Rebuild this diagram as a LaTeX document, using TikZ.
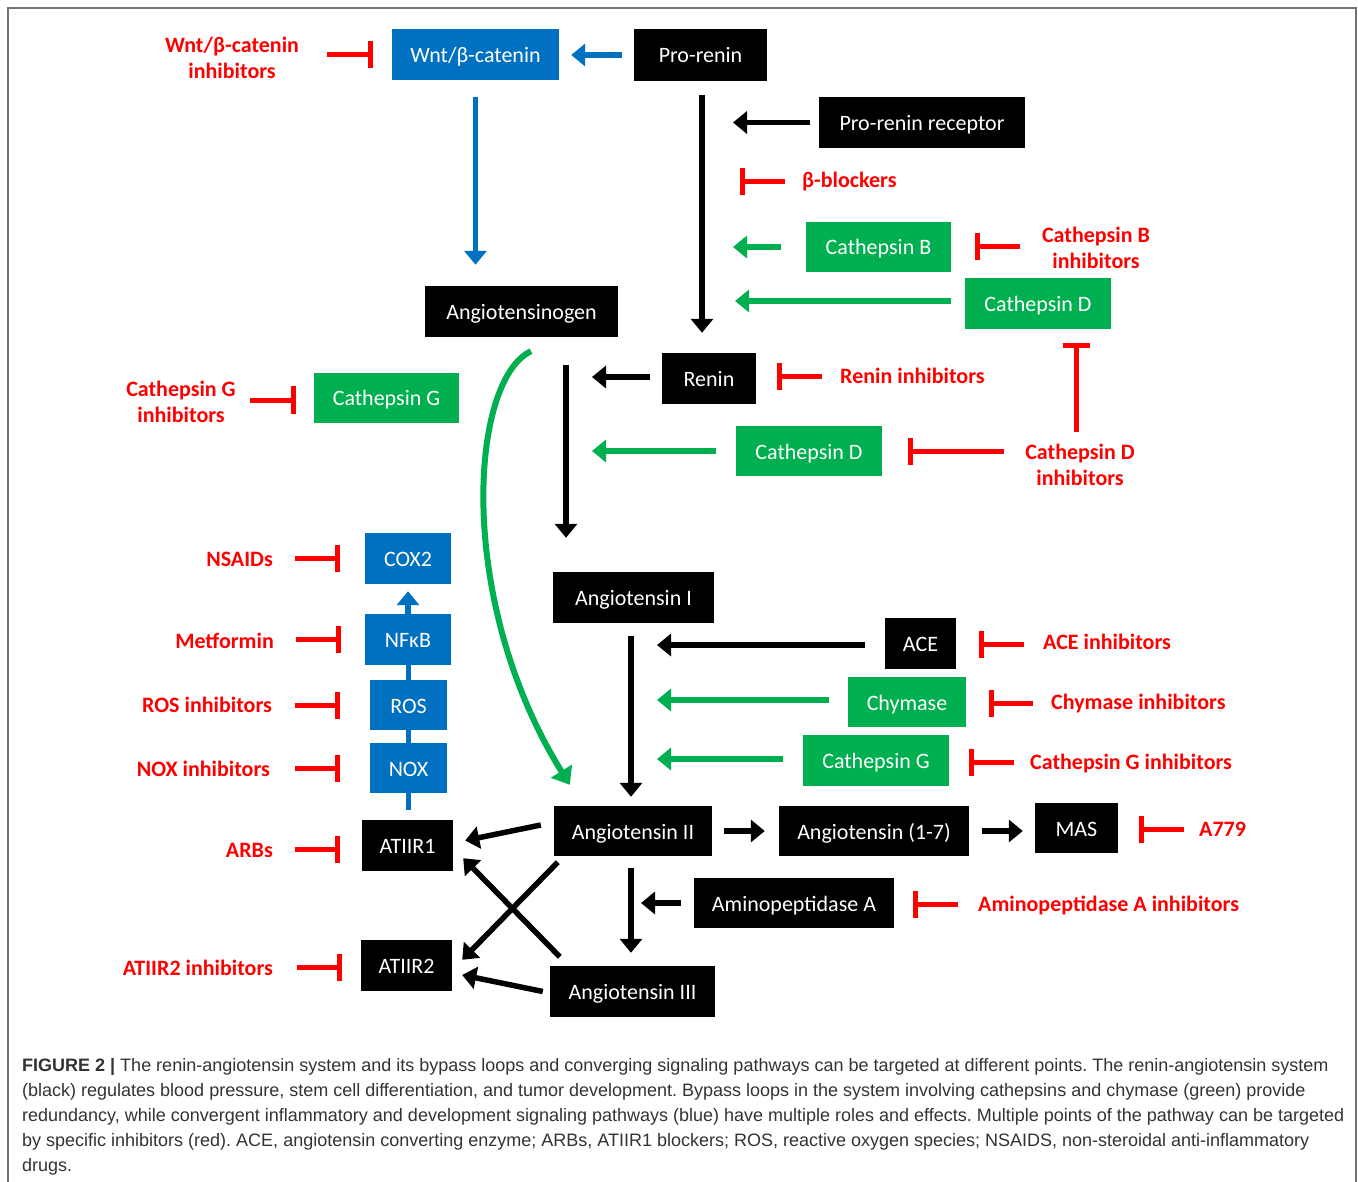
\documentclass[tikz,border=0pt]{standalone}
\usepackage{fontspec}
\setmainfont{Carlito}
\newfontfamily\capfont{Liberation Sans}
\usetikzlibrary{arrows.meta,calc}
\definecolor{rblue}{HTML}{0070C0}
\definecolor{rgreen}{HTML}{00B050}
\definecolor{rred}{HTML}{FF0000}
\begin{document}
\frenchspacing
\begin{tikzpicture}[x=1pt,y=-1pt,
  box/.style={minimum height=51pt, inner sep=0pt, text=white, text height=18pt, text depth=2pt, font=\fontsize{22}{26}\selectfont},
  bk/.style={box, fill=black},
  bl/.style={box, fill=rblue},
  gr/.style={box, fill=rgreen},
  lab/.style={text=rred, font=\bfseries\fontsize{22}{26}\selectfont, inner sep=0pt, align=center},
  arr/.style={line width=5.5pt, -{Triangle[length=14pt,width=22pt]}},
  inh/.style={draw=rred, line width=5pt, -{Bar[width=27pt]}},
  capline/.style={anchor=base west, inner sep=0pt, text=black!80, font=\capfont\fontsize{18}{22}\selectfont}
]
\useasboundingbox (0,0) rectangle (1358,1182);
\clip (0,0) rectangle (1358,1182);
\fill[white] (0,0) rectangle (1358,1182);
\draw[black!55, line width=1.5pt] (8,8) rectangle (1356,1210);

% ---------- boxes ----------
\node[bl, minimum width=167pt] (wnt) at (475.5,54.5) {Wnt/β-catenin};
\node[bk, minimum width=133pt, minimum height=52pt] (prorenin) at (700.5,55) {Pro-renin};
\node[bk, minimum width=206pt] (prr) at (922,122.5) {Pro-renin receptor};
\node[gr, minimum width=145pt, minimum height=50pt] (catB) at (878.5,247) {Cathepsin B};
\node[gr, minimum width=146pt, minimum height=51pt] (catD1) at (1038,303.5) {Cathepsin D};
\node[bk, minimum width=193pt] (agt) at (521.5,311.5) {Angiotensinogen};
\node[bk, minimum width=94pt] (renin) at (709,378.5) {Renin};
\node[gr, minimum width=146pt, minimum height=50pt] (catD2) at (809,451) {Cathepsin D};
\node[gr, minimum width=145pt, minimum height=50pt] (catG1) at (386.5,398) {Cathepsin G};
\node[bl, minimum width=86pt] (cox2) at (408,558.5) {COX2};
\node[bl, minimum width=86pt] (nfkb) at (408,639.5) {NFκB};
\node[bl, minimum width=77pt, minimum height=50pt] (ros) at (408.5,705) {ROS};
\node[bl, minimum width=77pt, minimum height=50pt] (nox) at (408.5,768) {NOX};
\node[bk, minimum width=91pt] (at1) at (407.5,845.5) {ATIIR1};
\node[bk, minimum width=91pt] (at2) at (406.5,965.5) {ATIIR2};
\node[bk, minimum width=161pt] (ang1) at (633.5,597.5) {Angiotensin I};
\node[bk, minimum width=71pt] (ace) at (920.5,643.5) {ACE};
\node[gr, minimum width=118pt, minimum height=50pt] (chy) at (907,702) {Chymase};
\node[gr, minimum width=146pt] (catG2) at (876,760.5) {Cathepsin G};
\node[bk, minimum width=158pt, minimum height=50pt] (ang2) at (633,831) {Angiotensin II};
\node[bk, minimum width=190pt, minimum height=50pt] (ang17) at (874,831) {Angiotensin (1-7)};
\node[bk, minimum width=83pt, minimum height=50pt] (mas) at (1076.5,828) {MAS};
\node[bk, minimum width=200pt, minimum height=50pt] (apa) at (794,903) {Aminopeptidase A};
\node[bk, minimum width=165pt] (ang3) at (632.5,991.5) {Angiotensin III};

% ---------- red labels ----------
\node[lab] (wnti) at (232,58) {Wnt/β-catenin\\inhibitors};
\node[lab, anchor=west] (bb) at (802,182) {β-blockers};
\node[lab] (cbi) at (1096,248) {Cathepsin B\\inhibitors};
\node[lab, anchor=west] (reni) at (840,376) {Renin inhibitors};
\node[lab] (cdi) at (1080,465) {Cathepsin D\\inhibitors};
\node[lab] (cgi1) at (181,402) {Cathepsin G\\inhibitors};
\node[lab, anchor=east] (nsaid) at (273,559) {NSAIDs};
\node[lab, anchor=east] (metf) at (274,641) {Metformin};
\node[lab, anchor=east] (rosi) at (272,705) {ROS inhibitors};
\node[lab, anchor=east] (noxi) at (270,769) {NOX inhibitors};
\node[lab, anchor=east] (arbs) at (273,850) {ARBs};
\node[lab, anchor=east] (at2i) at (273,968) {ATIIR2 inhibitors};
\node[lab, anchor=west] (acei) at (1043,642) {ACE inhibitors};
\node[lab, anchor=west] (chyi) at (1051,704) {Chymase inhibitors};
\node[lab, anchor=west] (cgi2) at (1030,764) {Cathepsin G inhibitors};
\node[lab, anchor=west] (a779) at (1199,829) {A779};
\node[lab, anchor=west] (apai) at (978,905) {Aminopeptidase A inhibitors};

% ---------- helper coordinates on the vertical arrows ----------
\coordinate (v1) at ([xshift=1.5pt]prorenin.south);
\coordinate (v2) at ([xshift=44.5pt]agt.south);
\coordinate (v3) at ([xshift=-2.5pt]ang1.south);
\coordinate (v4) at ([xshift=-2pt]ang2.south);

% ---------- blue pathway ----------
\draw[arr, rblue, shorten <=12pt, shorten >=12pt] (prorenin.west) -- (prorenin.west -| wnt.east);
\draw[arr, rblue, shorten <=17pt, shorten >=21pt] (wnt.south) -- (wnt.south |- agt.north);
\draw[arr, rblue, shorten >=7pt] (nfkb.north) -- (cox2.south);
\draw[rblue, line width=5pt] (ros.north) -- (ros.north |- nfkb.south);
\draw[rblue, line width=5pt] (nox.north) -- (ros.south);
\draw[rblue, line width=5pt, shorten >=10pt] (nox.south) -- (nox.south |- at1.north);

% ---------- pro-renin to renin ----------
\draw[arr, shorten <=14pt, shorten >=20pt] (v1) -- (v1 |- renin.north);
\draw[arr, shorten <=9pt, shorten >=31pt] (prr.west) -- (prr.west -| v1);
\draw[inh, shorten <=17pt, shorten >=38pt] (bb.west) -- (bb.west -| v1);
\draw[arr, rgreen, shorten <=25pt, shorten >=31pt] (catB.west) -- (catB.west -| v1);
\draw[inh, shorten <=22pt, shorten >=24pt] (catB.east -| cbi.west) -- (catB.east);
\draw[arr, rgreen, shorten <=14pt, shorten >=33pt] ([yshift=2.5pt]catD1.west) -- ([yshift=2.5pt]catD1.west -| v1);
\draw[inh, shorten <=12pt, shorten >=14pt] ([xshift=-4pt]cdi.north) -- ([xshift=-4pt]cdi.north |- catD1.south);
\draw[inh, shorten <=21pt, shorten >=26pt] (catD2.east -| cdi.west) -- (catD2.east);

% ---------- angiotensinogen to angiotensin I ----------
\draw[arr, shorten <=28pt, shorten >=34pt] (v2) -- (v2 |- ang1.north);
\draw[arr, shorten <=12pt, shorten >=26pt] ([yshift=1.5pt]renin.west) -- ([yshift=1.5pt]renin.west -| v2);
\draw[inh, shorten <=18pt, shorten >=21pt] ([yshift=2pt]renin.east -| reni.west) -- ([yshift=2pt]renin.east);
\draw[arr, rgreen, shorten <=20pt, shorten >=26pt] (catD2.west) -- (catD2.west -| v2);
\draw[inh, shorten <=14pt, shorten >=18pt] ([yshift=-2pt]catG1.west -| cgi1.east) -- ([yshift=-2pt]catG1.west);
\draw[inh, shorten <=28pt, shorten >=19pt] (wnt.west -| wnti.east) -- (wnt.west);

% green bypass curve
\draw[rgreen, line width=6pt, -{Triangle[length=16pt,width=24pt]}]
  ([xshift=9.5pt,yshift=-14pt]agt.south) .. controls (470,380) and (455,600) .. ([xshift=16pt,yshift=21pt]ang2.north west);

% ---------- left inhibitors ----------
\draw[inh, shorten <=22pt, shorten >=25pt] (cox2.west -| nsaid.east) -- (cox2.west);
\draw[inh, shorten <=22pt, shorten >=24pt] (nfkb.west -| metf.east) -- (nfkb.west);
\draw[inh, shorten <=23pt, shorten >=30pt] (ros.west -| rosi.east) -- (ros.west);
\draw[inh, shorten <=25pt, shorten >=30pt] (nox.west -| noxi.east) -- (nox.west);
\draw[inh, shorten <=22pt, shorten >=22pt] ([yshift=-4pt]at1.west -| arbs.east) -- ([yshift=-4pt]at1.west);
\draw[inh, shorten <=24pt, shorten >=19pt] ([yshift=-1.5pt]at2.west -| at2i.east) -- ([yshift=-1.5pt]at2.west);

% ---------- angiotensin I to II ----------
\draw[arr, shorten <=13pt, shorten >=9pt] (v3) -- (v3 |- ang2.north);
\draw[arr, shorten <=20pt, shorten >=26pt] ([yshift=-1.5pt]ace.west) -- ([yshift=-1.5pt]ace.west -| v3);
\draw[inh, shorten <=19pt, shorten >=23pt] ([yshift=-0.5pt]ace.east -| acei.west) -- ([yshift=-0.5pt]ace.east);
\draw[arr, rgreen, shorten <=19pt, shorten >=26pt] ([yshift=2pt]chy.west) -- ([yshift=2pt]chy.west -| v3);
\draw[inh, shorten <=18pt, shorten >=23pt] ([yshift=-1pt]chy.east -| chyi.west) -- ([yshift=-1pt]chy.east);
\draw[arr, rgreen, shorten <=20pt, shorten >=26pt] ([yshift=1.5pt]catG2.west) -- ([yshift=1.5pt]catG2.west -| v3);
\draw[inh, shorten <=16pt, shorten >=20pt] ([yshift=-1.5pt]catG2.east -| cgi2.west) -- ([yshift=-1.5pt]catG2.east);

% ---------- angiotensin II onwards ----------
\draw[arr, shorten <=12pt, shorten >=14pt] (ang2.east) -- (ang17.west);
\draw[arr, shorten <=13pt, shorten >=12pt] (ang17.east) -- (ang17.east -| mas.west);
\draw[inh, shorten <=15pt, shorten >=21pt] ([yshift=-1pt]mas.east -| a779.west) -- ([yshift=-1pt]mas.east);
\draw[arr, shorten <=12pt, shorten >=13pt] (v4) -- (v4 |- ang3.north);
\draw[arr, shorten <=13pt, shorten >=10pt] (apa.west) -- (apa.west -| v4);
\draw[inh, shorten <=20pt, shorten >=19pt] ([yshift=-1pt]apa.east -| apai.west) -- ([yshift=-1pt]apa.east);

% receptors
\draw[arr] ([xshift=-13pt,yshift=6pt]ang2.west) -- ([xshift=12pt,yshift=5pt]at1.east);
\draw[arr] ([xshift=4pt,yshift=-6pt]ang2.south west) -- ([xshift=10pt,yshift=-20pt]at2.north east);
\draw[arr] ([xshift=10pt,yshift=9pt]ang3.north west) -- ([xshift=10pt,yshift=13pt]at1.south east);
\draw[arr] ([xshift=-7pt]ang3.west) -- ([xshift=10pt,yshift=-9.5pt]at2.east);

% ---------- caption ----------
\node[capline] (c1) at (22,1071) {\textbf{FIGURE 2 |} The renin-angiotensin system and its bypass loops and converging signaling pathways can be targeted at different points. The renin-angiotensin system};
\node[capline] (c2) at (22,1096) {(black) regulates blood pressure, stem cell differentiation, and tumor development. Bypass loops in the system involving cathepsins and chymase (green) provide};
\node[capline] (c3) at (22,1121) {redundancy, while convergent inflammatory and development signaling pathways (blue) have multiple roles and effects. Multiple points of the pathway can be targeted};
\node[capline] (c4) at (22,1146) {by specific inhibitors (red). ACE, angiotensin converting enzyme; ARBs, ATIIR1 blockers; ROS, reactive oxygen species; NSAIDS, non-steroidal anti-inflammatory};
\node[capline] (c5) at (22,1171) {drugs.};
\end{tikzpicture}
\end{document}
